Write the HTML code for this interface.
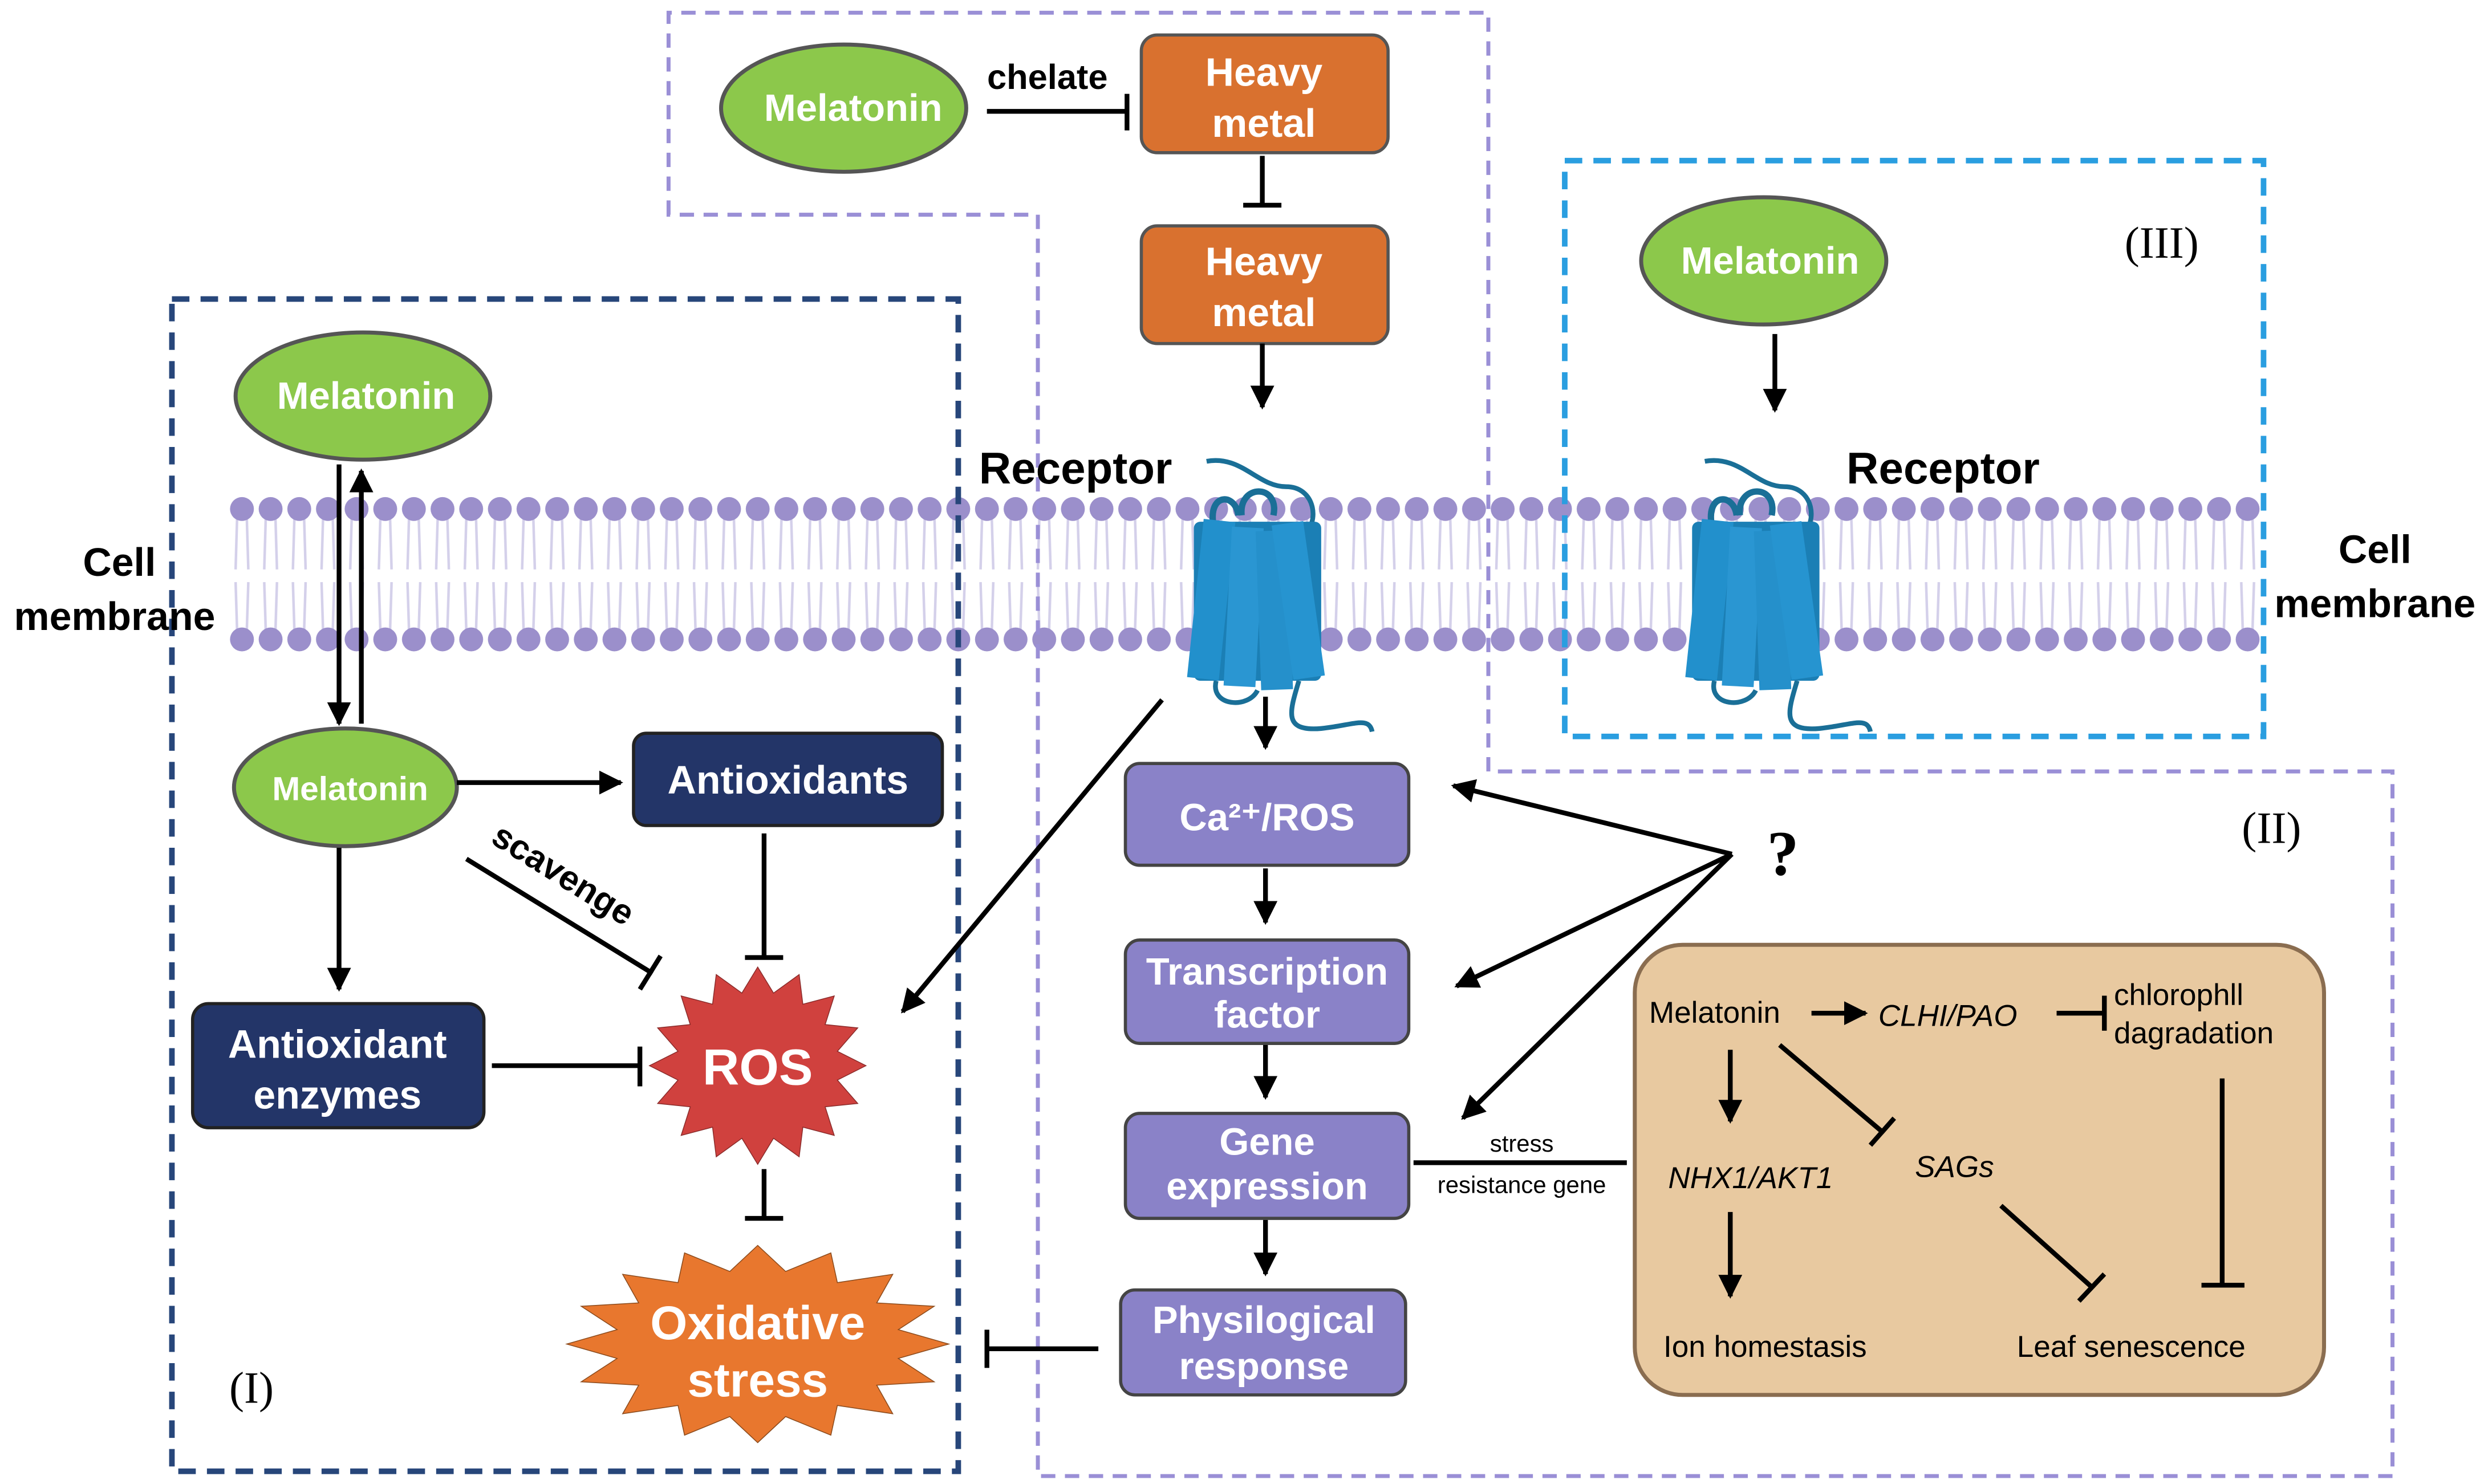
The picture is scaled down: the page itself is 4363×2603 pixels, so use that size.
<!DOCTYPE html>
<html><head><meta charset="utf-8"><style>
html,body{margin:0;padding:0;background:#fff;}
svg{display:block;}
text{font-family:"Liberation Sans",sans-serif;}
.w{fill:#fff;font-weight:bold;}
.b{fill:#000;}
</style></head><body>
<svg width="4363" height="2603" viewBox="0 0 1563 933" preserveAspectRatio="none" xmlns="http://www.w3.org/2000/svg">
<defs>
<marker id="ah" viewBox="0 0 10 10" refX="9" refY="5" markerWidth="5" markerHeight="5" orient="auto"><path d="M0,0L10,5L0,10z" fill="#000"/></marker>
<pattern id="lip" x="143" y="0" width="18" height="933" patternUnits="userSpaceOnUse">
<path d="M6,324 L5,358 M12,324 L13,358 M5,366 L6,398 M13,366 L12,398" stroke="#d4d0ea" stroke-width="1.6"/>
<circle cx="9" cy="320" r="7.5" fill="#9b8fcb"/>
<circle cx="9" cy="402" r="7.5" fill="#9b8fcb"/>
</pattern>
<g id="rec">
<path d="M-32,-78 C-10,-82 0,-62 18,-62 C36,-62 40,-40 28,-30" fill="none" stroke="#1a6f97" stroke-width="3"/>
<path d="M-28,-40 C-30,-58 -14,-58 -12,-44 M-10,-44 C-12,-64 14,-64 10,-44" fill="none" stroke="#1a6f97" stroke-width="4"/>
<path d="M-26,60 C-30,76 -6,78 0,66 M26,60 C20,80 16,92 40,90 C60,88 70,82 72,92" fill="none" stroke="#1a6f97" stroke-width="3"/>
<rect x="-40" y="-40" width="80" height="100" rx="4" fill="#1b7fb5"/>
<rect x="-38" y="-38" width="20" height="100" fill="#2290cc" transform="rotate(6)"/>
<rect x="-18" y="-36" width="20" height="100" fill="#2a96d2" transform="rotate(3)"/>
<rect x="0" y="-34" width="20" height="100" fill="#2590cb" transform="rotate(-2)"/>
<rect x="14" y="-36" width="20" height="98" fill="#2694d0" transform="rotate(-8)"/>
</g>
</defs>

<rect x="143" y="310" width="1278" height="102" fill="url(#lip)"/>

<path d="M420,135 L420,8 L935,8 L935,485 L1503,485 L1503,928 L652,928 L652,135 Z" fill="none" stroke="#9a8fd6" stroke-width="2.5" stroke-dasharray="9,6"/>
<rect x="108" y="188" width="494" height="737" fill="none" stroke="#27467a" stroke-width="3.5" stroke-dasharray="11,7"/>
<rect x="983" y="101" width="439" height="362" fill="none" stroke="#2a9ee0" stroke-width="3.5" stroke-dasharray="11,7"/>

<use href="#rec" transform="translate(790,368)"/>
<use href="#rec" transform="translate(1103,368)"/>

<g font-weight="bold" font-size="25">
<text x="75" y="362" text-anchor="middle">Cell</text>
<text x="72" y="396" text-anchor="middle">membrane</text>
<text x="1492" y="354" text-anchor="middle">Cell</text>
<text x="1492" y="388" text-anchor="middle">membrane</text>
<text x="615" y="304" font-size="28">Receptor</text>
<text x="1160" y="304" font-size="28">Receptor</text>
</g>
<text x="1358" y="162" font-size="28" text-anchor="middle" style="font-family:'Liberation Serif',serif">(III)</text>
<text x="1427" y="530" font-size="28" text-anchor="middle" style="font-family:'Liberation Serif',serif">(II)</text>
<text x="158" y="882" font-size="28" text-anchor="middle" style="font-family:'Liberation Serif',serif">(I)</text>

<g fill="#8cc84b" stroke="#555" stroke-width="2.5">
<ellipse cx="530" cy="68" rx="77" ry="40"/>
<ellipse cx="228" cy="249" rx="80" ry="40"/>
<ellipse cx="217" cy="495" rx="70" ry="37"/>
<ellipse cx="1108" cy="164" rx="77" ry="40"/>
</g>
<g class="w" font-size="24" text-anchor="middle">
<text x="536" y="76">Melatonin</text>
<text x="230" y="257">Melatonin</text>
<text x="220" y="503" font-size="21">Melatonin</text>
<text x="1112" y="172">Melatonin</text>
</g>

<g fill="#d9712f" stroke="#555" stroke-width="2">
<rect x="717" y="22" width="155" height="74" rx="10"/>
<rect x="717" y="142" width="155" height="74" rx="10"/>
</g>
<g class="w" font-size="25" text-anchor="middle">
<text x="794" y="54">Heavy</text><text x="794" y="86">metal</text>
<text x="794" y="173">Heavy</text><text x="794" y="205">metal</text>
</g>

<g fill="#233568" stroke="#222" stroke-width="2">
<rect x="398" y="461" width="194" height="58" rx="8"/>
<rect x="121" y="631" width="183" height="78" rx="10"/>
</g>
<g class="w" font-size="25" text-anchor="middle">
<text x="495" y="499">Antioxidants</text>
<text x="212" y="665">Antioxidant</text>
<text x="212" y="697">enzymes</text>
</g>

<polygon transform="translate(476,670) scale(68,62)" fill="#d0413e" stroke="#8a2b2a" stroke-width="1.5" vector-effect="non-scaling-stroke" points="1,0 .736,.146 .924,.383 .623,.417 .707,.707 .417,.623 .383,.924 .146,.736 0,1 -.146,.736 -.383,.924 -.417,.623 -.707,.707 -.623,.417 -.924,.383 -.736,.146 -1,0 -.736,-.146 -.924,-.383 -.623,-.417 -.707,-.707 -.417,-.623 -.383,-.924 -.146,-.736 0,-1 .146,-.736 .383,-.924 .417,-.623 .707,-.707 .623,-.417 .924,-.383 .736,-.146"/>
<polygon transform="translate(476,845) scale(120,62)" fill="#e8772e" stroke="#8a4a1c" stroke-width="1.5" vector-effect="non-scaling-stroke" points="1,0 .736,.146 .924,.383 .623,.417 .707,.707 .417,.623 .383,.924 .146,.736 0,1 -.146,.736 -.383,.924 -.417,.623 -.707,.707 -.623,.417 -.924,.383 -.736,.146 -1,0 -.736,-.146 -.924,-.383 -.623,-.417 -.707,-.707 -.417,-.623 -.383,-.924 -.146,-.736 0,-1 .146,-.736 .383,-.924 .417,-.623 .707,-.707 .623,-.417 .924,-.383 .736,-.146"/>
<text x="476" y="682" class="w" font-size="32" text-anchor="middle">ROS</text>
<text x="476" y="842" class="w" font-size="30" text-anchor="middle">Oxidative</text>
<text x="476" y="878" class="w" font-size="30" text-anchor="middle">stress</text>

<g fill="#8a82c8" stroke="#444" stroke-width="2">
<rect x="707" y="480" width="178" height="64" rx="9"/>
<rect x="707" y="591" width="178" height="65" rx="9"/>
<rect x="707" y="700" width="178" height="66" rx="9"/>
<rect x="704" y="811" width="179" height="66" rx="9"/>
</g>
<g class="w" font-size="24" text-anchor="middle">
<text x="796" y="522">Ca²⁺/ROS</text>
<text x="796" y="619">Transcription</text><text x="796" y="646">factor</text>
<text x="796" y="726">Gene</text><text x="796" y="754">expression</text>
<text x="794" y="838">Physilogical</text><text x="794" y="867">response</text>
</g>

<rect x="1027" y="594" width="433" height="283" rx="30" fill="#e8c9a0" stroke="#8a6d50" stroke-width="2.5"/>
<g font-size="19" fill="#000">
<text x="1036" y="643">Melatonin</text>
<text x="1180" y="645" font-style="italic">CLHI/PAO</text>
<text x="1328" y="632">chlorophll</text>
<text x="1328" y="656">dagradation</text>
<text x="1048" y="747" font-style="italic">NHX1/AKT1</text>
<text x="1203" y="740" font-style="italic">SAGs</text>
<text x="1045" y="853">Ion homestasis</text>
<text x="1267" y="853">Leaf senescence</text>
<text x="956" y="724" font-size="15" text-anchor="middle">stress</text>
<text x="956" y="750" font-size="15" text-anchor="middle">resistance gene</text>
</g>
<text x="1120" y="550" font-size="40" font-weight="bold" text-anchor="middle" style="font-family:'Liberation Serif',serif">?</text>
<text x="658" y="56" font-size="22" font-weight="bold" text-anchor="middle">chelate</text>
<text transform="translate(350,556) rotate(32)" font-size="22" font-weight="bold" text-anchor="middle">scavenge</text>

<g stroke="#000" stroke-width="3" fill="none">
<path d="M620,70 L708,70 M708,59 L708,82"/>
<path d="M793,98 L793,129 M781,129 L805,129"/>
<path d="M793,216 L793,256" marker-end="url(#ah)"/>
<path d="M213,292 L213,455" marker-end="url(#ah)"/>
<path d="M227,455 L227,296" marker-end="url(#ah)"/>
<path d="M287,492 L390,492" marker-end="url(#ah)"/>
<path d="M213,533 L213,622" marker-end="url(#ah)"/>
<path d="M293,540 L410,612 M402,622 L415,601"/>
<path d="M480,524 L480,602 M468,602 L492,602"/>
<path d="M309,670 L402,670 M402,658 L402,683"/>
<path d="M480,735 L480,766 M468,766 L492,766"/>
<path d="M690,848 L620,848 M620,836 L620,860"/>
<path d="M730,440 L567,636" marker-end="url(#ah)"/>
<path d="M795,438 L795,470" marker-end="url(#ah)"/>
<path d="M795,546 L795,580" marker-end="url(#ah)"/>
<path d="M795,657 L795,690" marker-end="url(#ah)"/>
<path d="M795,767 L795,801" marker-end="url(#ah)"/>
<path d="M1088,537 L913,494" marker-end="url(#ah)"/>
<path d="M1088,537 L915,620" marker-end="url(#ah)"/>
<path d="M1088,537 L919,703" marker-end="url(#ah)"/>
<path d="M888,731 L1022,731"/>
<path d="M1115,210 L1115,258" marker-end="url(#ah)"/>
<path d="M1138,637 L1172,637" marker-end="url(#ah)"/>
<path d="M1292,637 L1322,637 M1322,626 L1322,648"/>
<path d="M1087,660 L1087,705" marker-end="url(#ah)"/>
<path d="M1118,657 L1183,712 M1175,720 L1190,703"/>
<path d="M1087,762 L1087,815" marker-end="url(#ah)"/>
<path d="M1257,758 L1315,810 M1306,818 L1322,801"/>
<path d="M1396,678 L1396,808 M1383,808 L1410,808"/>
</g>
</svg>
</body></html>
